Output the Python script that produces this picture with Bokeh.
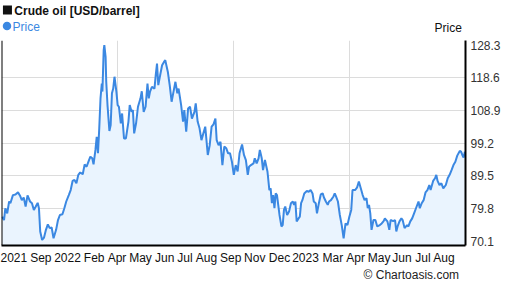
from bokeh.plotting import figure
from bokeh.layouts import column
from bokeh.models import Range1d, FixedTicker, Span
from bokeh.core.properties import value
from bokeh.embed import file_html
from bokeh.resources import INLINE

# ---- data ----
start_date = "2021-09-30"          # day 0 of the x axis
day_offsets = [
    1, 4, 6, 9, 12, 14, 18, 22, 26, 29, 32, 35, 38, 41, 45, 48, 51, 54, 57, 59,
    61, 64, 67, 70, 73, 76, 79, 82, 86, 89, 92, 96, 99, 102, 106, 109, 112, 115, 118, 121,
    124, 128, 131, 134, 137, 140, 143, 145, 148, 150, 152, 154, 156, 158, 159, 161, 162, 164, 165, 167,
    170, 172, 174, 176, 178, 181, 183, 185, 188, 190, 193, 196, 200, 202, 205, 207, 209, 212, 215, 219,
    221, 224, 227, 230, 232, 234, 237, 241, 243, 245, 247, 250, 253, 256, 258, 262, 265, 268, 271, 274,
    277, 279, 283, 286, 288, 291, 294, 297, 300, 304, 306, 309, 312, 315, 318, 321, 325, 328, 331, 334,
    337, 339, 342, 345, 348, 351, 354, 357, 360, 363, 366, 369, 372, 375, 379, 382, 385, 388, 390, 393,
    397, 399, 402, 405, 407, 410, 412, 415, 419, 422, 424, 426, 428, 430, 432, 434, 438, 441, 443, 445,
    447, 450, 453, 456, 459, 461, 463, 465, 468, 470, 472, 474, 477, 481, 484, 487, 490, 492, 495, 497,
    500, 503, 506, 508, 511, 514, 516, 519, 523, 525, 527, 530, 533, 536, 539, 542, 545, 548, 551, 553,
    557, 560, 563, 566, 569, 572, 575, 577, 579, 581, 583, 586, 589, 592, 596, 599, 602, 604, 606, 608,
    611, 613, 617, 620, 622, 624, 627, 630, 632, 635, 639, 641, 644, 647, 650, 653, 657, 659, 662, 665,
    668, 671, 674, 676, 680, 683, 685, 687, 690, 693, 696, 700, 703, 706, 709, 712, 715, 718, 722, 724,
    726, 728, 730,
]
prices = [
    77.4, 76.4, 79.9, 78.4, 81.9, 81.4, 83.8, 84.0, 84.6, 83.7, 82.3, 83.1, 80.4, 83.7, 81.9, 81.4, 79.4, 80.4, 81.5, 79.9,
    73.0, 70.5, 71.2, 73.5, 75.1, 74.0, 74.2, 71.0, 73.5, 76.4, 77.9, 78.1, 79.9, 81.9, 83.8, 85.3, 88.0, 88.3, 87.3, 89.8,
    90.5, 90.0, 92.9, 92.2, 93.7, 95.2, 94.7, 92.9, 97.2, 101.1, 96.2, 103.6, 112.5, 116.9, 114.5, 126.8, 128.3, 124.8, 117.4, 110.5,
    102.8, 104.6, 114.0, 115.4, 118.9, 114.5, 110.5, 110.0, 105.1, 108.0, 100.6, 100.6, 105.6, 110.5, 108.5, 109.0, 102.1, 105.1, 110.0, 112.5,
    114.6, 108.5, 110.0, 116.9, 112.5, 114.5, 115.9, 115.4, 119.4, 122.8, 116.4, 119.4, 122.3, 123.3, 123.8, 120.4, 116.4, 111.5, 114.5, 117.4,
    114.0, 115.4, 110.5, 105.6, 109.0, 102.6, 109.5, 110.0, 106.5, 108.5, 111.0, 105.6, 103.6, 100.1, 102.1, 104.1, 95.7, 98.6, 104.1, 104.8,
    106.5, 100.1, 98.6, 99.6, 92.7, 98.2, 97.7, 96.2, 96.2, 93.7, 89.8, 92.7, 90.8, 96.2, 98.8, 95.7, 94.2, 89.8, 92.2, 92.7,
    93.2, 94.7, 93.2, 94.7, 97.2, 94.7, 91.2, 94.2, 90.8, 85.3, 85.8, 81.4, 83.8, 79.9, 84.3, 83.8, 77.9, 74.5, 74.9, 79.4,
    80.4, 77.9, 78.9, 81.4, 81.9, 80.9, 81.9, 76.0, 76.9, 77.4, 81.4, 82.3, 84.3, 85.0, 84.8, 85.3, 84.3, 81.9, 81.4, 78.4,
    81.4, 84.0, 84.3, 83.1, 81.9, 80.9, 81.9, 82.3, 83.4, 84.3, 83.4, 81.9, 77.9, 74.9, 71.0, 75.4, 74.9, 77.4, 79.4, 85.3,
    85.3, 86.0, 87.8, 85.8, 83.8, 82.3, 82.9, 79.9, 80.9, 78.4, 73.5, 76.4, 76.4, 74.5, 74.9, 75.4, 76.1, 76.9, 76.4, 76.0,
    73.5, 76.4, 76.1, 76.4, 73.0, 74.5, 76.0, 76.9, 76.4, 74.0, 74.9, 74.5, 76.0, 76.9, 78.4, 79.9, 81.9, 79.9, 81.4, 82.3,
    84.6, 85.3, 86.8, 85.3, 88.0, 88.8, 89.8, 88.0, 86.8, 87.3, 85.8, 86.8, 88.8, 89.8, 91.2, 92.7, 93.7, 95.5, 96.9, 96.7,
    95.7, 94.9, 96.7,
]
y_ticks = [70.1, 79.8, 89.5, 99.2, 108.9, 118.6, 128.3]
y_grid = [79.8, 89.5, 99.2, 108.9, 118.6]
grid_days = [183, 366, 548]          # 2022-04-01, 2022-10-01, 2023-04-01
x_tick_days = [19, 62, 104, 146, 182, 219, 257, 289, 323, 361, 399, 438, 479, 522, 558, 595, 631, 664, 697]
x_tick_labels = ["2021", "Sep", "2022", "Feb", "Apr", "May", "Jun", "Jul", "Aug", "Sep",
                 "Nov", "Dec", "2023", "Mar", "Apr", "May", "Jun", "Jul", "Aug"]
title_text = "Crude oil [USD/barrel]"
series_name = "Price"
credit = "\u00a9 Chartoasis.com"

x_min, x_max = 0, 731
y_min, y_max = 68.85, 129.65

FONT = "Liberation Sans"
LINE = "#3b88e2"
FILL = "#eaf4fe"
W = 507


def blank(height):
    f = figure(width=W, height=height, output_backend="svg", toolbar_location=None,
               x_range=Range1d(0, W), y_range=Range1d(height, 0),
               x_axis_location=None, y_axis_location=None,
               min_border=0, outline_line_color=None,
               background_fill_color="white", border_fill_color="white")
    f.xgrid.visible = False
    f.ygrid.visible = False
    return f


# ---- header: title + legend ----
header = blank(34)
header.scatter(x=[6.5], y=[9.5], marker="square", size=9, fill_color="#111111", line_color=None)
header.text(x=[14], y=[10.5], text=[title_text], text_font=value(FONT), text_font_size="12px",
            text_font_style="bold", text_color="#111111", text_baseline="middle")
header.scatter(x=[6], y=[25.5], marker="circle", size=8.5, fill_color=LINE, line_color=None)
header.text(x=[12], y=[26], text=[series_name], text_font=value(FONT), text_font_size="12px",
            text_color=LINE, text_baseline="middle")
header.text(x=[503], y=[27], text=[series_name], text_font=value(FONT), text_font_size="12px",
            text_color="#111111", text_align="right", text_baseline="middle")

# ---- main chart ----
p = figure(width=W, height=234, output_backend="svg", toolbar_location=None,
           x_range=Range1d(x_min, x_max), y_range=Range1d(y_min, y_max),
           y_axis_location="right",
           min_border_left=1, min_border_right=42, min_border_top=6, min_border_bottom=23,
           outline_line_color=None, background_fill_color="white", border_fill_color="white")

p.xgrid.ticker = FixedTicker(ticks=grid_days)
p.ygrid.ticker = FixedTicker(ticks=y_grid)
for g in (p.xgrid, p.ygrid):
    g.grid_line_color = "#dcdcdc"
    g.grid_line_width = 1

p.varea(x=day_offsets, y1=y_min, y2=prices, fill_color=FILL)
p.line(x=day_offsets, y=prices, line_color=LINE, line_width=2)

xa = p.xaxis[0]
xa.ticker = FixedTicker(ticks=x_tick_days)
xa.major_label_overrides = {d: t for d, t in zip(x_tick_days, x_tick_labels)}
ya = p.yaxis[0]
ya.ticker = FixedTicker(ticks=y_ticks)
for ax, col in ((xa, "#111111"), (ya, "#333333")):
    ax.major_tick_out = 0
    ax.major_tick_in = 0
    ax.minor_tick_out = 0
    ax.minor_tick_in = 0
    ax.axis_line_color = "black"
    ax.axis_line_width = 2
    ax.major_label_text_font = FONT
    ax.major_label_text_font_size = "12px"
    ax.major_label_text_color = col
    ax.major_label_standoff = 5

p.add_layout(Span(location=x_min, dimension="height", line_color="black", line_width=2))

# ---- footer: credit ----
footer = blank(20)
footer.text(x=[500], y=[6], text=[credit], text_font=value(FONT), text_font_size="12px",
            text_color="#222222", text_align="right", text_baseline="middle")

layout = column(header, p, footer, spacing=0)
open("out.html", "w").write(file_html(layout, INLINE))
